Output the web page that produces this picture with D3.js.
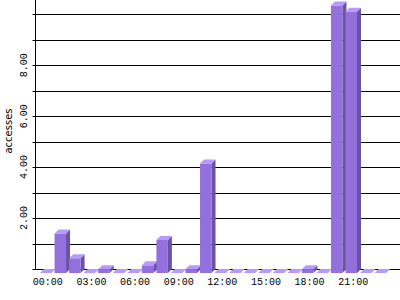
<!DOCTYPE html>
<html>
<head>
<meta charset="utf-8">
<script src="https://cdn.jsdelivr.net/npm/d3@7"></script>
<style>
  body { margin: 0; background: #fff; }
  .tick-label { font-family: "Liberation Mono", monospace; font-size: 10px; fill: #000; }
  .axis-title { font-family: "DejaVu Sans", sans-serif; font-size: 10px; fill: #000; }
</style>
</head>
<body>
<div id="chart"></div>
<script>
// hourly accesses (averaged)
var hours = d3.range(24);
var accesses = [0, 1.55, 0.58, 0, 0.15, 0, 0, 0.3, 1.3, 0, 0.15, 4.3,
                0, 0, 0, 0, 0, 0, 0.15, 0, 10.5, 10.26, 0, 0];
var hourLabels = ['00:00', '03:00', '06:00', '09:00', '12:00', '15:00', '18:00', '21:00'];
var gridValues = d3.range(0, 11);
var labelValues = [2, 4, 6, 8];

var width = 400, height = 300;
var depth = 4;
var axisX = 35.5;

var svg = d3.select('#chart').append('svg')
  .attr('width', width)
  .attr('height', height);

var y = d3.scaleLinear().domain([0, 10.56]).range([269, 0]);
var x = d3.scaleBand().domain(hours).range([40, 386.1]).paddingInner(0.21);
var bw = x.bandwidth();

// grid lines + small ticks
gridValues.forEach(function(v) {
  var yy = Math.round(y(v)) + 0.5;
  svg.append('line')
    .attr('x1', axisX - 3).attr('x2', width)
    .attr('y1', yy).attr('y2', yy)
    .attr('stroke', '#000').attr('stroke-width', 1);
});

// y axis line
svg.append('line')
  .attr('x1', axisX).attr('x2', axisX)
  .attr('y1', 0).attr('y2', Math.round(y(0)) + 0.5)
  .attr('stroke', '#000');

// y tick labels, rotated
labelValues.forEach(function(v) {
  svg.append('text')
    .attr('class', 'tick-label')
    .attr('transform', 'translate(27,' + y(v) + ') rotate(-90)')
    .attr('text-anchor', 'middle')
    .text(d3.format('.2f')(v));
});

svg.append('text')
  .attr('class', 'axis-title')
  .attr('transform', 'translate(12,' + 131 + ') rotate(-90)')
  .attr('text-anchor', 'middle')
  .text('accesses');

// 3d bars
var bars = svg.selectAll('.bar')
  .data(hours)
  .enter()
  .append('g')
  .attr('class', 'bar');

bars.each(function(h) {
  var g = d3.select(this);
  var xl = x(h), xr = x(h) + bw;
  var yt = y(accesses[h]), yb = y(0);
  // side
  g.append('polygon')
    .attr('points', [[xr, yt + depth], [xr + depth, yt], [xr + depth, yb], [xr, yb + depth]].join(' '))
    .attr('fill', '#6a52a5');
  // front
  g.append('rect')
    .attr('x', xl).attr('y', yt + depth)
    .attr('width', bw).attr('height', yb - yt)
    .attr('fill', '#9370db');
  // top
  g.append('polygon')
    .attr('points', [[xl, yt + depth], [xl + depth, yt], [xr + depth, yt], [xr, yt + depth]].join(' '))
    .attr('fill', '#b899ff');
});

// x labels every 3 hours
svg.selectAll('.xlabel')
  .data(hourLabels)
  .enter()
  .append('text')
  .attr('class', 'tick-label')
  .attr('x', function(d, i) { return x(i * 3) + bw / 2 + 2; })
  .attr('y', 285)
  .attr('text-anchor', 'middle')
  .text(function(d) { return d; });
</script>
</body>
</html>
